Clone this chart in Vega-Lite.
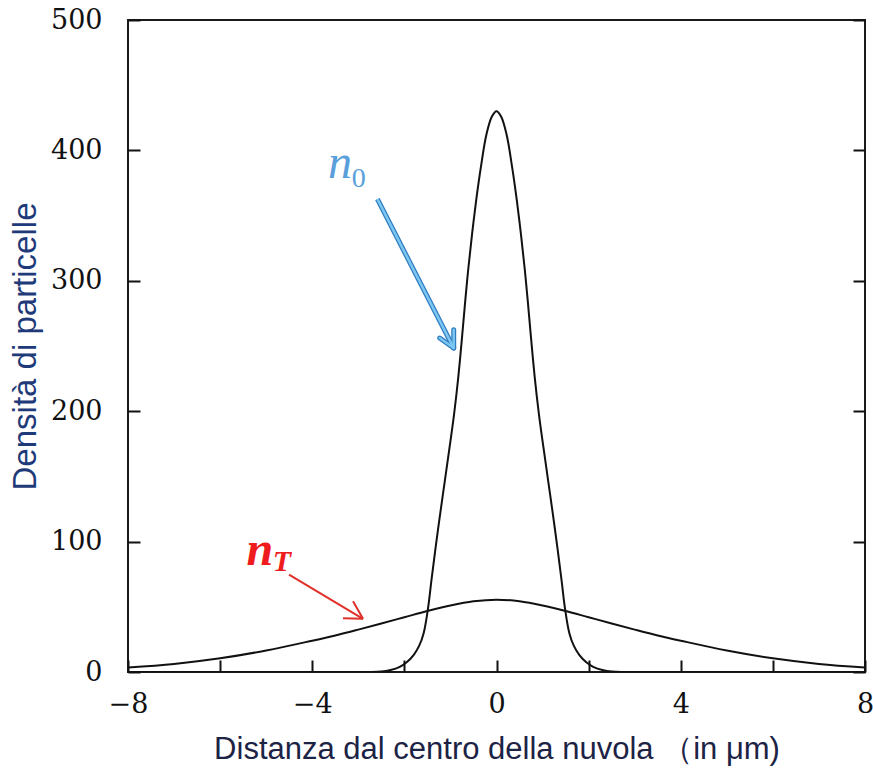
{
  "$schema": "https://vega.github.io/schema/vega-lite/v6.json",
  "width": 737,
  "height": 652,
  "autosize": "none",
  "padding": {"left": 128, "top": 20, "right": 8, "bottom": 96},
  "background": "white",
  "config": {"view": {"stroke": "#1a1a1a", "strokeWidth": 2}},
  "datasets": {
    "curves": [
      {"series": "n0", "x": -8, "v": 0},
      {"series": "n0", "x": -4, "v": 0},
      {"series": "n0", "x": -2.8, "v": 0},
      {"series": "n0", "x": -2.5, "v": 0.3},
      {"series": "n0", "x": -2.3, "v": 1.5},
      {"series": "n0", "x": -2.1, "v": 4},
      {"series": "n0", "x": -1.95, "v": 7.5},
      {"series": "n0", "x": -1.8, "v": 13},
      {"series": "n0", "x": -1.68, "v": 20},
      {"series": "n0", "x": -1.58, "v": 30},
      {"series": "n0", "x": -1.49, "v": 48},
      {"series": "n0", "x": -1.41, "v": 71},
      {"series": "n0", "x": -1.32, "v": 96},
      {"series": "n0", "x": -1.22, "v": 122},
      {"series": "n0", "x": -1.12, "v": 147},
      {"series": "n0", "x": -1.02, "v": 172},
      {"series": "n0", "x": -0.92, "v": 198},
      {"series": "n0", "x": -0.83, "v": 226},
      {"series": "n0", "x": -0.75, "v": 256},
      {"series": "n0", "x": -0.68, "v": 284},
      {"series": "n0", "x": -0.61, "v": 310},
      {"series": "n0", "x": -0.53, "v": 336},
      {"series": "n0", "x": -0.44, "v": 362},
      {"series": "n0", "x": -0.34, "v": 387},
      {"series": "n0", "x": -0.22, "v": 412},
      {"series": "n0", "x": -0.1, "v": 426},
      {"series": "n0", "x": 0, "v": 430},
      {"series": "n0", "x": 0.1, "v": 426},
      {"series": "n0", "x": 0.22, "v": 412},
      {"series": "n0", "x": 0.34, "v": 387},
      {"series": "n0", "x": 0.44, "v": 362},
      {"series": "n0", "x": 0.53, "v": 336},
      {"series": "n0", "x": 0.61, "v": 310},
      {"series": "n0", "x": 0.68, "v": 284},
      {"series": "n0", "x": 0.75, "v": 256},
      {"series": "n0", "x": 0.83, "v": 226},
      {"series": "n0", "x": 0.92, "v": 198},
      {"series": "n0", "x": 1.02, "v": 172},
      {"series": "n0", "x": 1.12, "v": 147},
      {"series": "n0", "x": 1.22, "v": 122},
      {"series": "n0", "x": 1.32, "v": 96},
      {"series": "n0", "x": 1.41, "v": 71},
      {"series": "n0", "x": 1.49, "v": 48},
      {"series": "n0", "x": 1.58, "v": 30},
      {"series": "n0", "x": 1.68, "v": 20},
      {"series": "n0", "x": 1.8, "v": 13},
      {"series": "n0", "x": 1.95, "v": 7.5},
      {"series": "n0", "x": 2.1, "v": 4},
      {"series": "n0", "x": 2.3, "v": 1.5},
      {"series": "n0", "x": 2.5, "v": 0.3},
      {"series": "n0", "x": 2.8, "v": 0},
      {"series": "n0", "x": 4, "v": 0},
      {"series": "n0", "x": 8, "v": 0},
      {"series": "nT", "x": -8, "v": 3.5},
      {"series": "nT", "x": -7, "v": 6.2},
      {"series": "nT", "x": -6, "v": 10.5},
      {"series": "nT", "x": -5, "v": 16.5},
      {"series": "nT", "x": -4, "v": 24},
      {"series": "nT", "x": -3.5, "v": 28},
      {"series": "nT", "x": -3, "v": 32.5},
      {"series": "nT", "x": -2.5, "v": 37.2},
      {"series": "nT", "x": -2, "v": 42},
      {"series": "nT", "x": -1.5, "v": 46.8},
      {"series": "nT", "x": -1, "v": 51},
      {"series": "nT", "x": -0.5, "v": 54.2},
      {"series": "nT", "x": 0, "v": 55.5},
      {"series": "nT", "x": 0.5, "v": 54.2},
      {"series": "nT", "x": 1, "v": 51},
      {"series": "nT", "x": 1.5, "v": 46.8},
      {"series": "nT", "x": 2, "v": 42},
      {"series": "nT", "x": 2.5, "v": 37.2},
      {"series": "nT", "x": 3, "v": 32.5},
      {"series": "nT", "x": 3.5, "v": 28},
      {"series": "nT", "x": 4, "v": 24},
      {"series": "nT", "x": 5, "v": 16.5},
      {"series": "nT", "x": 6, "v": 10.5},
      {"series": "nT", "x": 7, "v": 6.2},
      {"series": "nT", "x": 8, "v": 3.5}
    ]
  },
  "resolve": {"axis": {"y": "independent"}},
  "layer": [
    {
      "data": {"name": "curves"},
      "mark": {"type": "line", "interpolate": "catmull-rom", "stroke": "#111111", "strokeWidth": 2, "clip": true},
      "encoding": {
        "x": {
          "field": "x", "type": "quantitative",
          "scale": {"domain": [-8, 8], "nice": false, "zero": false},
          "axis": {
            "values": [-8, -6, -4, -2, 0, 2, 4, 6, 8],
            "labelExpr": "datum.value % 4 == 0 ? datum.label : ''",
            "tickSize": -12, "tickWidth": 2, "tickColor": "#111111",
            "domain": false, "grid": false,
            "labelFont": "DejaVu Serif", "labelFontSize": 27, "labelColor": "#111111",
            "labelPadding": 31, "labelFlush": false,
            "title": "Distanza dal centro della nuvola （in μm)",
            "titleFont": "Liberation Sans", "titleFontSize": 31, "titleFontWeight": "normal",
            "titleColor": "#1c2345", "titlePadding": 17
          }
        },
        "y": {
          "field": "v", "type": "quantitative",
          "scale": {"domain": [0, 500], "nice": false},
          "axis": {
            "orient": "left",
            "values": [0, 100, 200, 300, 400, 500],
            "tickSize": -12, "tickWidth": 2, "tickColor": "#111111",
            "domain": false, "grid": false,
            "labelFont": "DejaVu Serif", "labelFontSize": 27, "labelColor": "#111111",
            "labelPadding": 38, "labelFlush": false,
            "title": "Densità di particelle",
            "titleFont": "Liberation Sans", "titleFontSize": 33, "titleFontWeight": "normal",
            "titleColor": "#1f3a78", "titlePadding": 8
          }
        },
        "detail": {"field": "series", "type": "nominal"}
      }
    },
    {
      "data": {"values": [{}]},
      "mark": {"type": "rule", "stroke": "#2f7cc0", "strokeWidth": 5},
      "encoding": {
        "x": {"datum": -2.585, "type": "quantitative", "scale": {"domain": [-8, 8], "nice": false, "zero": false}},
        "y": {"datum": 362.6, "type": "quantitative", "scale": {"domain": [0, 500], "nice": false},
          "axis": {"orient": "right", "values": [0, 100, 200, 300, 400, 500], "tickSize": -12, "tickWidth": 2, "tickColor": "#111111", "domain": false, "grid": false, "labels": false, "title": null}},
        "x2": {"datum": -0.929},
        "y2": {"datum": 248.4}
      }
    },
    {
      "data": {"values": [{}]},
      "mark": {"type": "rule", "stroke": "#2f7cc0", "strokeWidth": 5, "strokeCap": "round"},
      "encoding": {
        "x": {"datum": -0.929, "type": "quantitative"},
        "y": {"datum": 248.4, "type": "quantitative", "axis": null},
        "x2": {"datum": -1.233},
        "y2": {"datum": 256.1}
      }
    },
    {
      "data": {"values": [{}]},
      "mark": {"type": "rule", "stroke": "#2f7cc0", "strokeWidth": 5, "strokeCap": "round"},
      "encoding": {
        "x": {"datum": -0.929, "type": "quantitative"},
        "y": {"datum": 248.4, "type": "quantitative", "axis": null},
        "x2": {"datum": -0.929},
        "y2": {"datum": 262.5}
      }
    },
    {
      "data": {"values": [{}]},
      "mark": {"type": "rule", "stroke": "#7cc6f2", "strokeWidth": 2.5},
      "encoding": {
        "x": {"datum": -2.585, "type": "quantitative"},
        "y": {"datum": 362.6, "type": "quantitative", "axis": null},
        "x2": {"datum": -0.929},
        "y2": {"datum": 248.4}
      }
    },
    {
      "data": {"values": [{}]},
      "mark": {"type": "rule", "stroke": "#7cc6f2", "strokeWidth": 2.5, "strokeCap": "round"},
      "encoding": {
        "x": {"datum": -0.929, "type": "quantitative"},
        "y": {"datum": 248.4, "type": "quantitative", "axis": null},
        "x2": {"datum": -1.233},
        "y2": {"datum": 256.1}
      }
    },
    {
      "data": {"values": [{}]},
      "mark": {"type": "rule", "stroke": "#7cc6f2", "strokeWidth": 2.5, "strokeCap": "round"},
      "encoding": {
        "x": {"datum": -0.929, "type": "quantitative"},
        "y": {"datum": 248.4, "type": "quantitative", "axis": null},
        "x2": {"datum": -0.929},
        "y2": {"datum": 262.5}
      }
    },
    {
      "data": {"values": [{}]},
      "mark": {"type": "rule", "stroke": "#e0302a", "strokeWidth": 2},
      "encoding": {
        "x": {"datum": -4.504, "type": "quantitative"},
        "y": {"datum": 74.7, "type": "quantitative", "axis": null},
        "x2": {"datum": -2.898},
        "y2": {"datum": 40.8}
      }
    },
    {
      "data": {"values": [{}]},
      "mark": {"type": "rule", "stroke": "#e0302a", "strokeWidth": 2},
      "encoding": {
        "x": {"datum": -2.898, "type": "quantitative"},
        "y": {"datum": 40.8, "type": "quantitative", "axis": null},
        "x2": {"datum": -3.332},
        "y2": {"datum": 41.3}
      }
    },
    {
      "data": {"values": [{}]},
      "mark": {"type": "rule", "stroke": "#e0302a", "strokeWidth": 2},
      "encoding": {
        "x": {"datum": -2.898, "type": "quantitative"},
        "y": {"datum": 40.8, "type": "quantitative", "axis": null},
        "x2": {"datum": -3.115},
        "y2": {"datum": 54.3}
      }
    },
    {
      "data": {"values": [{}]},
      "mark": {"type": "text", "text": "n", "font": "Liberation Serif", "fontStyle": "italic", "fontSize": 48, "fill": "#5a9fdc", "align": "left", "baseline": "alphabetic"},
      "encoding": {
        "x": {"datum": -3.66, "type": "quantitative"},
        "y": {"datum": 379, "type": "quantitative", "axis": null}
      }
    },
    {
      "data": {"values": [{}]},
      "mark": {"type": "text", "text": "0", "font": "Liberation Serif", "fontSize": 28, "fill": "#5a9fdc", "align": "left", "baseline": "alphabetic"},
      "encoding": {
        "x": {"datum": -3.14, "type": "quantitative"},
        "y": {"datum": 372, "type": "quantitative", "axis": null}
      }
    },
    {
      "data": {"values": [{}]},
      "mark": {"type": "text", "text": "n", "font": "Liberation Serif", "fontStyle": "italic", "fontWeight": "bold", "fontSize": 48, "fill": "#ee1c1c", "align": "left", "baseline": "alphabetic"},
      "encoding": {
        "x": {"datum": -5.43, "type": "quantitative"},
        "y": {"datum": 82.4, "type": "quantitative", "axis": null}
      }
    },
    {
      "data": {"values": [{}]},
      "mark": {"type": "text", "text": "T", "font": "Liberation Serif", "fontStyle": "italic", "fontWeight": "bold", "fontSize": 30, "fill": "#ee1c1c", "align": "left", "baseline": "alphabetic"},
      "encoding": {
        "x": {"datum": -4.86, "type": "quantitative"},
        "y": {"datum": 77.2, "type": "quantitative", "axis": null}
      }
    }
  ]
}
